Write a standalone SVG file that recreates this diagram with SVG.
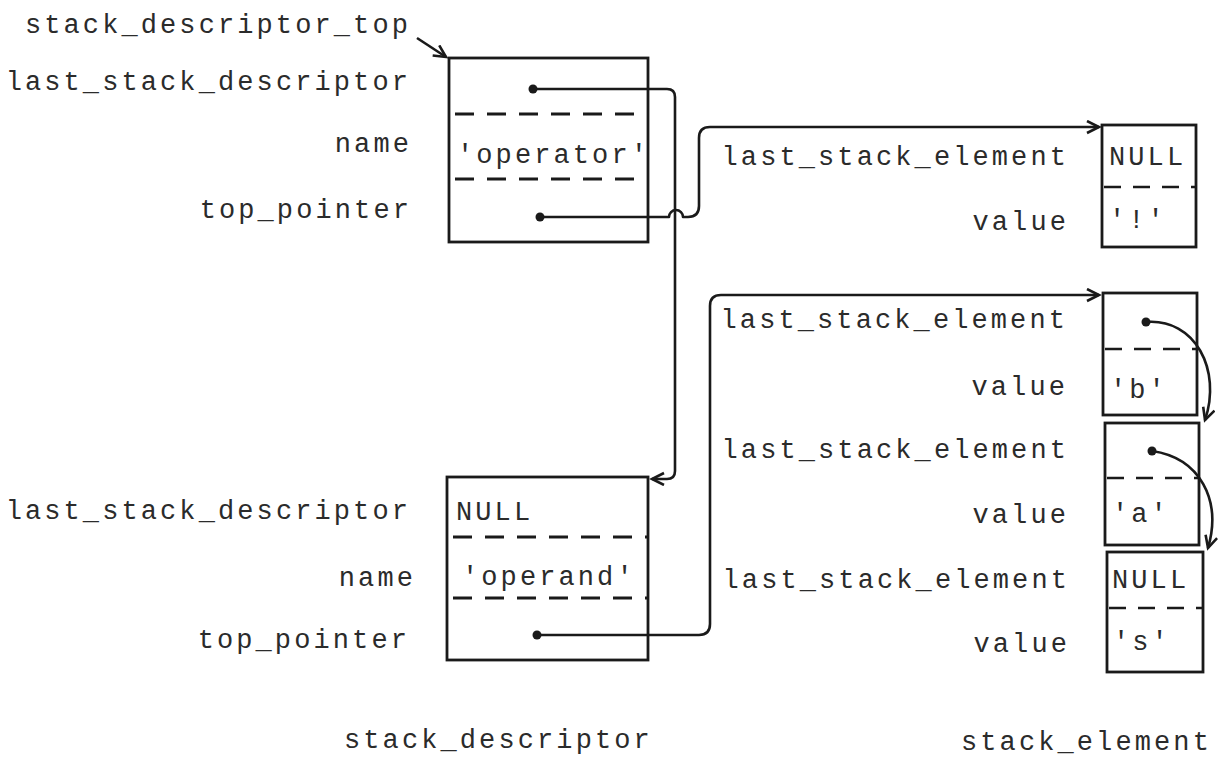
<svg xmlns="http://www.w3.org/2000/svg" width="1221" height="758" viewBox="0 0 1221 758">
<style>
.t{font-family:"Liberation Mono","DejaVu Sans Mono",monospace;font-size:27px;letter-spacing:3.1px;fill:#2b2b2b}
.r{text-anchor:end}
.box{fill:none;stroke:#1a1a1a;stroke-width:2.8}
.dash{stroke:#1a1a1a;stroke-width:2.8;stroke-dasharray:19 13}
.dash2{stroke:#1a1a1a;stroke-width:2.6;stroke-dasharray:17 12}
.con{fill:none;stroke:#1a1a1a;stroke-width:2.6;stroke-linejoin:round}
.dot{fill:#1a1a1a}
</style>
<defs>
<marker id="ah" markerUnits="userSpaceOnUse" markerWidth="16" markerHeight="16" refX="13" refY="7" orient="auto">
<path d="M1,1 L13,7 L1,13" fill="none" stroke="#1a1a1a" stroke-width="2.6"/>
</marker>
</defs>
<rect width="1221" height="758" fill="#ffffff"/>

<g id="label-stack-descriptor-top">
<text class="t r" x="411" y="33">stack_descriptor_top</text>
</g>

<g id="desc-operator">
<rect class="box" x="449" y="58" width="199" height="184"/>
<line class="dash" x1="455" y1="114" x2="648" y2="114"/>
<line class="dash" x1="455" y1="179" x2="648" y2="179"/>
<text class="t" x="457" y="163">'operator'</text>
<text class="t r" x="411" y="90">last_stack_descriptor</text>
<text class="t r" x="412" y="152">name</text>
<text class="t r" x="412" y="218">top_pointer</text>
</g>

<g id="desc-operand">
<rect class="box" x="447" y="477" width="201" height="183"/>
<line class="dash" x1="453" y1="537" x2="648" y2="537"/>
<line class="dash" x1="453" y1="598" x2="648" y2="598"/>
<text class="t" x="456" y="520">NULL</text>
<text class="t" x="462" y="585">'operand'</text>
<text class="t r" x="411" y="519">last_stack_descriptor</text>
<text class="t r" x="416" y="586">name</text>
<text class="t r" x="410" y="648">top_pointer</text>
</g>

<g id="elem-bang">
<rect class="box" x="1102" y="125" width="94" height="122"/>
<line class="dash2" x1="1104" y1="187" x2="1196" y2="187"/>
<text class="t" x="1109" y="165">NULL</text>
<text class="t" x="1109" y="228">'!'</text>
<text class="t r" x="1069" y="165">last_stack_element</text>
<text class="t r" x="1069" y="230">value</text>
</g>

<g id="elem-b">
<rect class="box" x="1103" y="293" width="94" height="122"/>
<line class="dash2" x1="1105" y1="349" x2="1197" y2="349"/>
<text class="t" x="1110" y="398">'b'</text>
<text class="t r" x="1068" y="328">last_stack_element</text>
<text class="t r" x="1068" y="395">value</text>
</g>

<g id="elem-a">
<rect class="box" x="1105" y="423" width="94" height="122"/>
<line class="dash2" x1="1107" y1="478" x2="1199" y2="478"/>
<text class="t" x="1112" y="522">'a'</text>
<text class="t r" x="1069" y="458">last_stack_element</text>
<text class="t r" x="1069" y="523">value</text>
</g>

<g id="elem-s">
<rect class="box" x="1107" y="552" width="96" height="120"/>
<line class="dash2" x1="1109" y1="608" x2="1203" y2="608"/>
<text class="t" x="1112" y="588">NULL</text>
<text class="t" x="1113" y="650">'s'</text>
<text class="t r" x="1070" y="588">last_stack_element</text>
<text class="t r" x="1070" y="652">value</text>
</g>

<g id="captions">
<text class="t" x="344" y="748">stack_descriptor</text>
<text class="t" x="961" y="750">stack_element</text>
</g>

<g id="connectors">
<path class="con" d="M417,38 L446,57" marker-end="url(#ah)"/>
<path class="con" d="M533,89 H667 Q675,89 675,97 V471 Q675,479 667,479 H652" marker-end="url(#ah)"/>
<path class="con" d="M540,217 H669 A7,7 0 0 1 683,217 H688 Q699,217 699,206 V138 Q699,127 710,127 H1099" marker-end="url(#ah)"/>
<path class="con" d="M537,635 H699 Q710,635 710,624 V306 Q710,295 721,295 H1099" marker-end="url(#ah)"/>
<path class="con" d="M1146,322 C1195,318 1222,370 1205,420" marker-end="url(#ah)"/>
<path class="con" d="M1152,451 C1200,458 1222,500 1208,548" marker-end="url(#ah)"/>
<circle class="dot" cx="533" cy="89" r="4.5"/>
<circle class="dot" cx="540" cy="217" r="4.5"/>
<circle class="dot" cx="537" cy="635" r="4.5"/>
<circle class="dot" cx="1146" cy="322" r="4.5"/>
<circle class="dot" cx="1152" cy="451" r="4.5"/>
</g>
</svg>
